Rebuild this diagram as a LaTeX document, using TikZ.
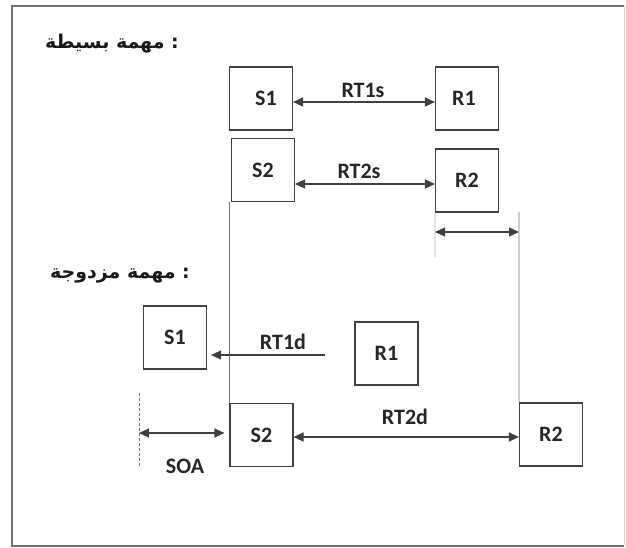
\documentclass[tikz,border=0pt]{standalone}
\usepackage{fontspec}
\setmainfont{Carlito}
\newfontfamily\arabicfont[Script=Arabic]{DejaVu Sans}
\TeXXeTstate=1
\usetikzlibrary{arrows.meta}
\begin{document}
\begin{tikzpicture}[x=1pt,y=-1pt,
  box/.style={draw=black!75,line width=1.1pt,minimum width=63pt,minimum height=63pt,inner sep=0pt,font=\fontsize{22}{24}\selectfont\bfseries,text=black!85},
  lbl/.style={font=\fontsize{22}{24}\selectfont\bfseries,text=black!85,inner sep=0pt},
  arlbl/.style={font=\fontsize{19}{22}\arabicfont\bfseries,inner sep=0pt,text=black!90},
  conn/.style={line width=1.1pt,draw=black!75,{Triangle[length=10pt,width=9pt]}-{Triangle[length=10pt,width=9pt]}},
  oneway/.style={line width=1.1pt,draw=black!75,-{Triangle[length=10pt,width=9pt]}},
  guide/.style={line width=0.6pt,draw=black!55}]
\useasboundingbox (0,0) rectangle (626,548);
% frame
\draw[line width=1.8pt,draw=black!55] (624,6) -- (12,6) -- (12,546) -- (624,546);
\draw[line width=0.8pt,draw=black!15] (624,6) -- (624,546);
% titles
\node[arlbl,anchor=east] (t1) at (179,44) {\beginR مهمة بسيطة\endR{} :};
\node[arlbl,anchor=east] (t2) at (190,276) {\beginR مهمة مزدوجة\endR{} :};
% simple task
\node[box] (S1s) at (261,98.5) {\hspace*{10pt}S1};
\node[box] (R1s) at (467,98.5) {R1\hspace*{6pt}};
\node[box] (S2s) at (263,170) {S2};
\node[box] (R2s) at (467,180.5) {R2};
\draw[conn] ([yshift=-3.5pt]S1s.east) -- ([yshift=-3.5pt]R1s.west);
\node[lbl] (rt1s) at (363,90) {RT1s};
\draw[conn] ([yshift=-14pt]S2s.east) -- ([yshift=-3.5pt]R2s.west);
\node[lbl] (rt2s) at (359,171) {RT2s};
% guides
\coordinate (g1) at (435,257);
\draw[guide,draw=black!30] (R2s.south west) -- (g1);
\coordinate (g2) at (519,212);
\coordinate (a1) at (435,232);
\coordinate (a2) at (519,232);
\draw[conn] (a1) -- (a2);
% double task
\node[box] (S1d) at (175,337.5) {S1};
\node[box] (R1d) at (386.5,353.5) {R1};
\node[box] (S2d) at (261.5,435) {S2};
\node[box] (R2d) at (551,434.5) {R2};
\draw[guide] (S2d.north west |- S2s.south) -- (S2d.north west);
\draw[guide] (g2) -- (R2d.north west);
\coordinate (r1start) at (325,355);
\draw[oneway] (r1start) -- ([xshift=4pt]S1d.east |- r1start);
\node[lbl] (rt1d) at (283,342) {RT1d};
\draw[conn] ([yshift=-2pt]S2d.east) -- ([yshift=-2.5pt]R2d.west);
\node[lbl] (rt2d) at (405,417) {RT2d};
\coordinate (d1) at (139,393);
\coordinate (d2) at (139,467);
\draw[line width=0.8pt,draw=black!55,dash pattern=on 3pt off 2pt] (d1) -- (d2);
\coordinate (s1) at (139,433);
\draw[conn,shorten >=5pt] (s1) -- (S2d.west |- s1);
\node[lbl] (soa) at (185,466) {SOA};
\end{tikzpicture}
\end{document}
